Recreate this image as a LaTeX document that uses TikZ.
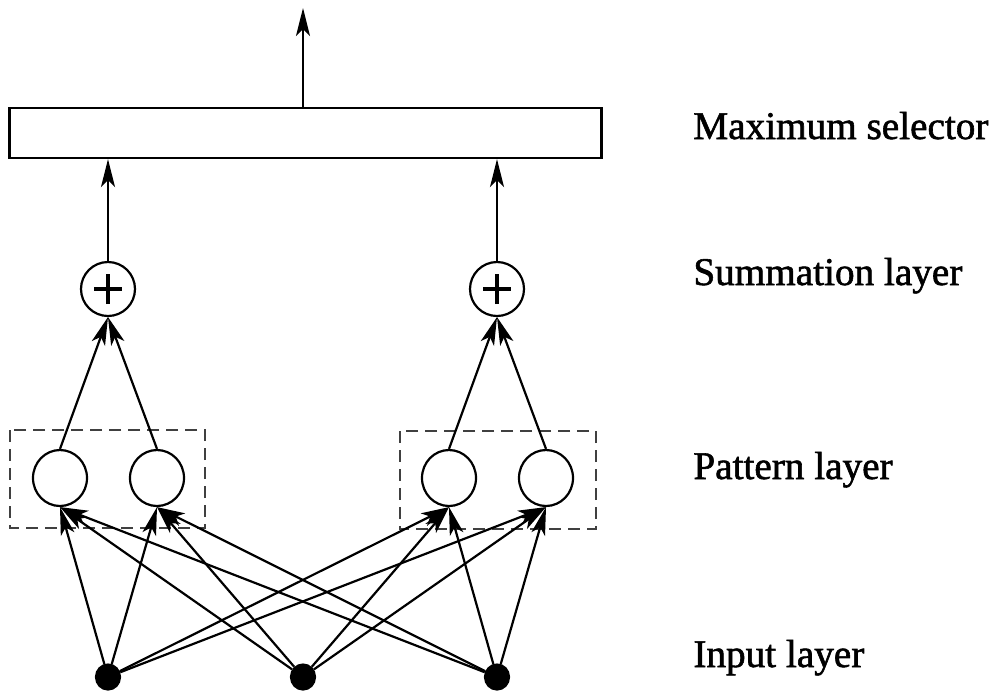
\documentclass[tikz,border=0pt]{standalone}
\usepackage{fontspec}
\setmainfont{Liberation Serif}
\usetikzlibrary{arrows.meta,shapes.geometric}
\begin{document}
\begin{tikzpicture}[x=0.5pt,y=-0.5pt,
  conn/.style={line width=1.1pt,-{Stealth[length=14pt,width=7pt,inset=3.5pt]}},
  selbox/.style={draw,line width=1.1pt,rectangle,minimum width=296pt,minimum height=25pt,inner sep=0pt},
  sumnode/.style={draw,line width=1.1pt,circle,minimum size=27pt,inner sep=0pt},
  plussign/.style={line width=2.4pt},
  patnode/.style={draw,line width=1.1pt,ellipse,minimum width=27pt,minimum height=28pt,inner sep=0pt},
  innode/.style={draw,fill=black,line width=0.6pt,ellipse,minimum width=12.5pt,minimum height=13pt,inner sep=0pt},
  group/.style={draw=black!75,line width=1.3pt,dash pattern=on 6pt off 3.5pt},
  layerlabel/.style={anchor=base west,inner sep=0pt,
    font=\fontsize{19.6pt}{24pt}\selectfont\addfontfeature{FakeBold=1.5}}]
  \useasboundingbox (0,0) rectangle (994,692);

  % maximum selector and output
  \node[selbox] (sel) at (305.5,133) {};
  \coordinate (out) at (303,8);

  % summation units, each with a plus sign
  \node[sumnode] (s1) at (108,289) {};
  \node[sumnode] (s2) at (497,289) {};
  \foreach \s in {s1,s2} {
    \draw[plussign] ([xshift=-7pt]\s.center) -- ([xshift=7pt]\s.center);
    \draw[plussign] ([yshift=-7.5pt]\s.center) -- ([yshift=7.5pt]\s.center);
  }

  % pattern units
  \node[patnode] (p1) at (60,478) {};
  \node[patnode] (p2) at (157,478) {};
  \node[patnode] (p3) at (449,478) {};
  \node[patnode] (p4) at (546,478) {};

  % groups of pattern units
  \draw[group] (10,430) rectangle (205,528);
  \draw[group] (400,431) rectangle (596,529);

  % input units
  \node[innode] (i1) at (108,677) {};
  \node[innode] (i2) at (303,677) {};
  \node[innode] (i3) at (497,677) {};

  % connections
  \draw[conn] (sel.north -| out) -- (out);
  \draw[conn] (s1.north) -- (s1.north |- sel.south);
  \draw[conn] (s2.north) -- (s2.north |- sel.south);
  \foreach \p/\s in {p1/s1,p2/s1,p3/s2,p4/s2}
    \draw[conn] (\p.north) -- (\s.south);
  \foreach \i in {i1,i2,i3}
    \foreach \p in {p1,p2,p3,p4}
      \draw[conn] (\i) -- (\p.south);

  % layer names
  \node[layerlabel] (lsel) at (693,139) {Maximum selector};
  \node[layerlabel] (lsum) at (693,285) {Summation layer};
  \node[layerlabel] (lpat) at (693,479) {Pattern layer};
  \node[layerlabel] (lin) at (693,667) {Input layer};
\end{tikzpicture}
\end{document}
